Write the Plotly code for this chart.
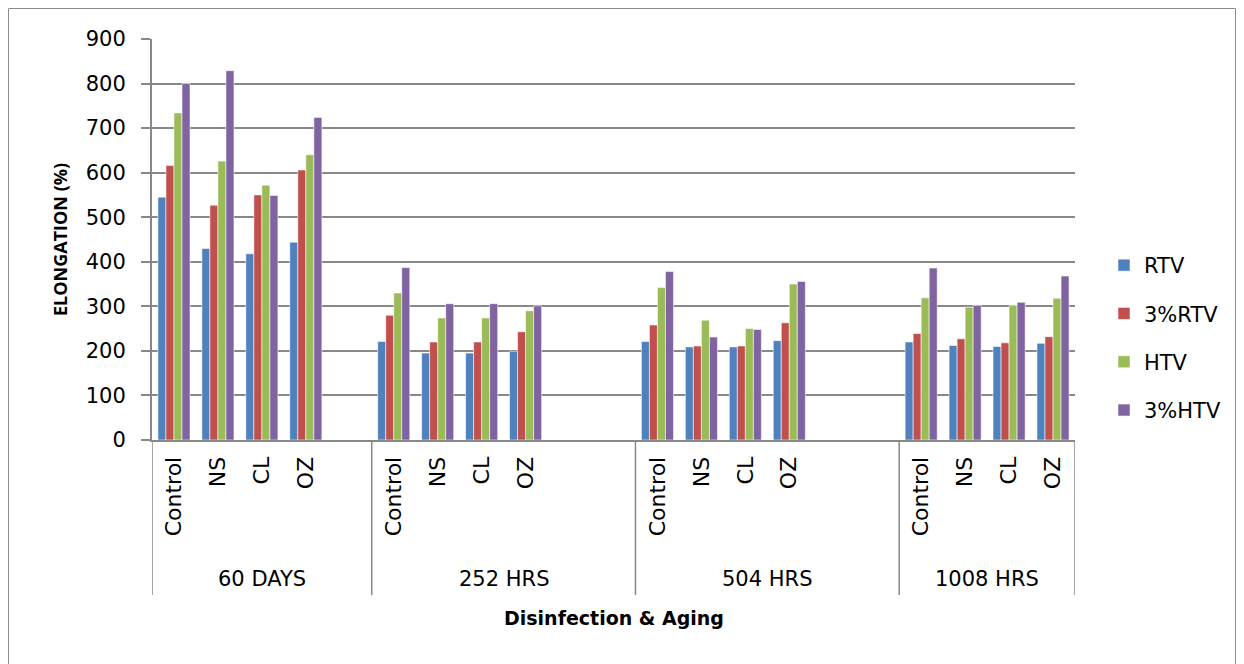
import plotly.graph_objects as go

# ---------------- data ----------------
groups = ["60 DAYS", "252 HRS", "504 HRS", "1008 HRS"]
treatments = ["Control", "NS", "CL", "OZ"]
series_names = ["RTV", "3%RTV", "HTV", "3%HTV"]

rtv = [545, 430, 418, 444, 221, 195, 195, 199, 221, 209, 209, 223, 220, 212, 210, 217]
rtv3 = [616, 527, 550, 606, 280, 220, 220, 243, 258, 211, 211, 263, 239, 227, 218, 232]
htv = [734, 626, 572, 640, 330, 274, 274, 290, 342, 269, 250, 350, 319, 298, 302, 318]
htv3 = [800, 829, 549, 724, 387, 306, 306, 301, 378, 231, 248, 356, 386, 302, 309, 368]

y_ticks = [0, 100, 200, 300, 400, 500, 600, 700, 800, 900]

# ---------------- layout config ----------------
slots_per_group = [5, 6, 6, 4]          # category slots (incl. empty ones) per group
colors = ["#4F81BD", "#C0504D", "#9BBB59", "#8064A2"]
FONT = "DejaVu Sans"
GRID = "#888888"

OFF = 8                                  # page body margin
W, H = 1244 - OFF, 664 - OFF
PL, PR, PT, PB = 152, 1075, 39, 440      # plot area in screen pixels


def px_x(px):
    return (px - PL) / (PR - PL)


def px_y(py):
    return (PB - py) / (PB - PT)


# slot positions of the data categories
starts = []
s = 0
for n in slots_per_group:
    starts.append(s)
    s += n
total_slots = s

xpos, xlab = [], []
for gi, g in enumerate(groups):
    for ti, t in enumerate(treatments):
        xpos.append(starts[gi] + ti)
        xlab.append(t)

fig = go.Figure()
for name, vals, col in zip(series_names, [rtv, rtv3, htv, htv3], colors):
    fig.add_trace(go.Bar(
        x=xpos, y=vals, name=name, legendgroup=name,
        marker=dict(color=col, line=dict(color="rgba(255,255,255,0.55)", width=1)),
    ))

shapes = []
# group dividers below the axis
bounds = [-0.5] + [starts[i] + slots_per_group[i] - 0.5 for i in range(len(groups))]
for b in bounds:
    shapes.append(dict(type="line", xref="x", yref="paper", x0=b, x1=b,
                       y0=0, y1=px_y(595), line=dict(color=GRID, width=1.5)))
# outer chart border (bottom edge lies below the visible page)
shapes.append(dict(type="rect", xref="paper", yref="paper",
                   x0=px_x(8.5), x1=px_x(1235.5), y0=px_y(8.5), y1=px_y(680),
                   line=dict(color="#8c8c8c", width=1), layer="below"))

annotations = []
for gi, g in enumerate(groups):
    c = (bounds[gi] + bounds[gi + 1]) / 2
    annotations.append(dict(x=c, xref="x", y=px_y(579), yref="paper", text=g,
                            showarrow=False, xanchor="center", yanchor="middle",
                            font=dict(family=FONT, size=21, color="black")))
annotations.append(dict(x=0.5, xref="paper", y=px_y(618), yref="paper",
                        text="<b>Disinfection &amp; Aging</b>", showarrow=False,
                        xanchor="center", yanchor="middle",
                        font=dict(family=FONT, size=19, color="black")))
annotations.append(dict(x=px_x(60), xref="paper", y=px_y(240), yref="paper",
                        text="<b>ELONGATION (%)</b>", showarrow=False, textangle=-90,
                        xanchor="center", yanchor="middle",
                        font=dict(family="Open Sans", size=18, color="black")))

fig.update_layout(
    width=W, height=H,
    margin=dict(l=PL - OFF, r=W - (PR - OFF), t=PT - OFF, b=H - (PB - OFF), pad=0),
    paper_bgcolor="white", plot_bgcolor="white",
    barmode="group", bargap=0.27, bargroupgap=0,
    shapes=shapes, annotations=annotations,
    showlegend=True,
    legend=dict(x=px_x(1104), y=px_y(245), xanchor="left", yanchor="top",
                font=dict(family=FONT, size=21, color="black"),
                tracegroupgap=18, traceorder="grouped",
                bgcolor="rgba(0,0,0,0)"),
    font=dict(family=FONT, color="black"),
)
fig.update_xaxes(
    range=[-0.5, total_slots - 0.5], tickmode="array", tickvals=xpos, ticktext=xlab,
    tickangle=-90, ticks="", showgrid=False, zeroline=False,
    showline=True, linecolor=GRID, linewidth=2,
    tickfont=dict(family=FONT, size=22, color="black"), ticklabelstandoff=6,
)
fig.update_yaxes(
    range=[0, 900], tickmode="array", tickvals=y_ticks,
    showgrid=True, gridcolor=GRID, gridwidth=2, zeroline=False,
    showline=True, linecolor=GRID, linewidth=2,
    ticks="outside", ticklen=9, tickcolor=GRID, tickwidth=1.5,
    tickfont=dict(family=FONT, size=21, color="black"), ticklabelstandoff=11,
)

fig.write_html("out.html")
